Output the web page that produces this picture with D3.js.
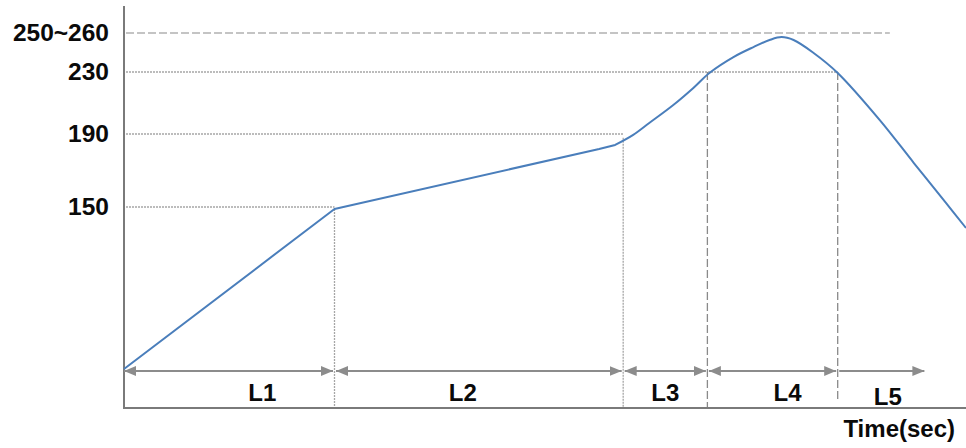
<!DOCTYPE html>
<html>
<head>
<meta charset="utf-8">
<script src="https://cdn.jsdelivr.net/npm/d3@7"></script>
<style>
    body { margin: 0; background: #fff; }
    svg { display: block; font-family: "Liberation Sans", Arial, sans-serif; }
    .lbl { font-weight: bold; fill: #0a0a0a; }
</style>
</head>
<body>
<div id="chart"></div>
<script>
//profile readings (time in sec, temperature)
var profTime = [0, 105, 237, 245, 254, 262, 274, 284, 292, 304, 314, 322, 328, 334, 344, 356, 377, 394, 410, 420];
var profTemp = [25, 148.5, 181.8, 184, 189.5, 197.1, 208.7, 219.7, 229.4, 239.6, 246, 250.5, 252.4, 250.5, 242.2, 229.4, 199, 174.1, 152.2, 133.8];
//the first 4 readings are straight ramps, the rest is smooth
var straightCount = 4;

//temperature marks on the left
var tickValues = [150, 190, 230, 255];
var tickLabels = ["150", "190", "230", "250~260"];
//where each guide line stops (time)
var guideEnd = [105, 249, 356, 382];

//phases along the bottom
var phases = ["L1", "L2", "L3", "L4", "L5"];
var phaseStart = [0, 105, 249, 291, 356];
var phaseEnd = [105, 249, 291, 356, 400];
var phaseLabelAt = [69, 169, 270, 331, 381];

(function(){

    var width = 966, height = 448;
    var axisY = 408, arrowY = 371;

    var svg = d3.select("#chart")
        .append("svg")
        .attr("width", width)
        .attr("height", height);

    //time scale
    var x = d3.scaleLinear()
        .domain([0, 420])
        .range([124, 966]);
    //the picture is not to scale, so a piecewise scale
    var y = d3.scaleLinear()
        .domain([25, 150, 190, 230, 255])
        .range([369, 207, 134, 72, 33]);

    //arrow heads
    var defs = svg.append("defs");
    ["end", "start"].forEach(function(k){
        defs.append("marker")
            .attr("id", "arr-" + k)
            .attr("markerUnits", "userSpaceOnUse")
            .attr("viewBox", "0 0 12 10")
            .attr("markerWidth", 12)
            .attr("markerHeight", 10)
            .attr("refX", 12)
            .attr("refY", 5)
            .attr("orient", k == "end" ? "auto" : "auto-start-reverse")
            .append("path")
            .attr("d", "M0,0L12,5L0,10Z")
            .attr("fill", "#8c8c8c");
    });

    //horizontal guide lines
    svg.selectAll(".guide")
        .data(tickValues)
        .enter()
        .append("line")
        .attr("class", "guide")
        .attr("x1", x(1))
        .attr("x2", function(d, i){ return x(guideEnd[i]); })
        .attr("y1", function(d){ return y(d); })
        .attr("y2", function(d){ return y(d); })
        .attr("stroke", function(d, i){ return i == 3 ? "#8a8a8a" : "#a6a6a6"; })
        .attr("stroke-width", function(d, i){ return i == 3 ? 1.2 : 1.3; })
        .attr("stroke-dasharray", function(d, i){ return i == 3 ? "8,3" : "2,1"; });

    //vertical phase borders
    var borderTop = [148.5, 188, 230, 230];
    svg.selectAll(".border")
        .data(phaseStart.slice(1))
        .enter()
        .append("line")
        .attr("class", "border")
        .attr("x1", function(d){ return x(d); })
        .attr("x2", function(d){ return x(d); })
        .attr("y1", function(d, i){ return y(borderTop[i]); })
        .attr("y2", function(d, i){ return i == 3 ? axisY - 8 : axisY; })
        .attr("stroke", function(d, i){ return i < 2 ? "#a6a6a6" : "#8a8a8a"; })
        .attr("stroke-width", 1.3)
        .attr("stroke-dasharray", function(d, i){ return i < 2 ? "2,1" : "8,3"; });

    //axes
    svg.append("line")
        .attr("x1", x(0)).attr("x2", x(0))
        .attr("y1", 6).attr("y2", axisY)
        .attr("stroke", "#7a7a7a").attr("stroke-width", 2);
    svg.append("line")
        .attr("x1", x(0) - 1).attr("x2", x(420))
        .attr("y1", axisY).attr("y2", axisY)
        .attr("stroke", "#7a7a7a").attr("stroke-width", 2);

    var yAxis = d3.axisLeft(y)
        .tickValues(tickValues)
        .tickFormat(function(d, i){ return tickLabels[i]; })
        .tickSize(0)
        .tickPadding(15);
    var gy = svg.append("g")
        .attr("transform", "translate(" + x(0) + ",0)")
        .call(yAxis);
    gy.select(".domain").remove();
    gy.selectAll("text")
        .attr("class", "lbl")
        .style("font-size", "24.5px")
        .style("font-family", "'Liberation Sans', Arial, sans-serif");

    //phase arrows
    svg.selectAll(".arrow")
        .data(phases)
        .enter()
        .append("line")
        .attr("class", "arrow")
        .attr("x1", function(d, i){ return x(phaseStart[i]) + (i == 0 ? 0 : 1.5); })
        .attr("x2", function(d, i){ return x(phaseEnd[i]) - 1.5; })
        .attr("y1", arrowY)
        .attr("y2", arrowY)
        .attr("stroke", "#8c8c8c")
        .attr("stroke-width", 2)
        .attr("marker-end", "url(#arr-end)")
        .attr("marker-start", function(d, i){ return i < 4 ? "url(#arr-start)" : null; });

    svg.selectAll(".phase")
        .data(phases)
        .enter()
        .append("text")
        .attr("class", "lbl phase")
        .attr("x", function(d, i){ return x(phaseLabelAt[i]); })
        .attr("y", function(d, i){ return i == 4 ? 405 : 401; })
        .attr("text-anchor", "middle")
        .style("font-size", "24px")
        .text(function(d){ return d; });

    svg.append("text")
        .attr("class", "lbl")
        .attr("x", 955)
        .attr("y", 437)
        .attr("text-anchor", "end")
        .style("font-size", "24px")
        .text("Time(sec)");

    //temperature curve
    var pts = profTime.map(function(t, i){ return [t, profTemp[i]]; });
    var straight = d3.line()
        .x(function(d){ return x(d[0]); })
        .y(function(d){ return y(d[1]); });
    var smooth = d3.line()
        .x(function(d){ return x(d[0]); })
        .y(function(d){ return y(d[1]); })
        .curve(d3.curveCatmullRom.alpha(0.5));

    svg.append("path")
        .attr("d", straight(pts.slice(0, straightCount)) + smooth(pts.slice(straightCount - 1)).replace(/^M[^A-Z]*/, ""))
        .attr("fill", "none")
        .attr("stroke", "#4a7ebb")
        .attr("stroke-width", 2)
        .attr("stroke-linejoin", "round");

})()
</script>
</body>
</html>
